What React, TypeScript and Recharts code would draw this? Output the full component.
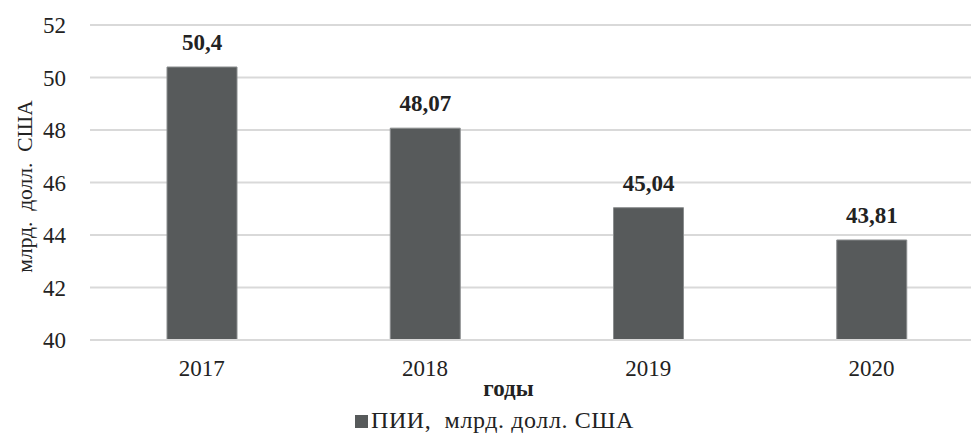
import React from "react";
import { BarChart, Bar, XAxis, YAxis, CartesianGrid, LabelList } from "recharts";

const years = ["2017", "2018", "2019", "2020"];
const values = [50.4, 48.07, 45.04, 43.81];
const valueLabels = ["50,4", "48,07", "45,04", "43,81"];
const yTicks = [40, 42, 44, 46, 48, 50, 52];
const seriesName = "ПИИ,  млрд. долл. США";
const yTitle = "млрд.\u00a0 долл.\u00a0 США";
const xTitle = "годы";

const data = years.map((y, i) => ({ year: y, value: values[i], label: valueLabels[i] }));

const FONT = '"Liberation Serif", "Times New Roman", serif';
const BAR = "#575a5b";

export default function App() {
  return (
    <div style={{ position: "absolute", left: 0, top: 0, width: 971, height: 434, overflow: "hidden", background: "#fff" }}>
      <BarChart
        width={1000}
        height={434}
        data={data}
        margin={{ top: 25, right: 17, bottom: 64, left: 0 }}
        barSize={70}
      >
        <CartesianGrid vertical={false} stroke="#d9d9d9" strokeWidth={2} />
        <XAxis
          dataKey="year"
          height={30}
          axisLine={{ stroke: "#d9d9d9", strokeWidth: 2 }}
          tickLine={false}
          tick={{ fontFamily: FONT, fontSize: 23, fill: "#222" }}
          tickMargin={14}
          label={{ value: xTitle, position: "insideBottom", offset: -26, dx: -28, style: { fontFamily: FONT, fontSize: 23, fontWeight: "bold", fill: "#222" } }}
        />
        <YAxis
          width={90}
          domain={[40, 52]}
          ticks={yTicks}
          axisLine={false}
          tickLine={false}
          tick={{ fontFamily: FONT, fontSize: 23, fill: "#222" }}
          tickMargin={18}
          label={{ value: yTitle, angle: -90, position: "insideLeft", offset: 24, dy: 4, style: { fontFamily: FONT, fontSize: 21.5, fill: "#222", textAnchor: "middle" } }}
        />
        <Bar dataKey="value" fill={BAR} stroke="#8a8d8e" strokeWidth={1} isAnimationActive={false}>
          <LabelList dataKey="label" position="top" offset={17} style={{ fontFamily: FONT, fontSize: 23, fontWeight: "bold", fill: "#222" }} />
        </Bar>
      </BarChart>
      <div style={{ position: "absolute", left: 355, top: 408, height: 24, fontFamily: FONT, fontSize: 24, letterSpacing: 0.6, lineHeight: "24px", color: "#222", display: "flex", alignItems: "center", whiteSpace: "pre" }}>
        <span style={{ display: "inline-block", width: 13, height: 13, background: BAR, marginRight: 3, marginTop: 2 }} />
        <span>{seriesName}</span>
      </div>
    </div>
  );
}
